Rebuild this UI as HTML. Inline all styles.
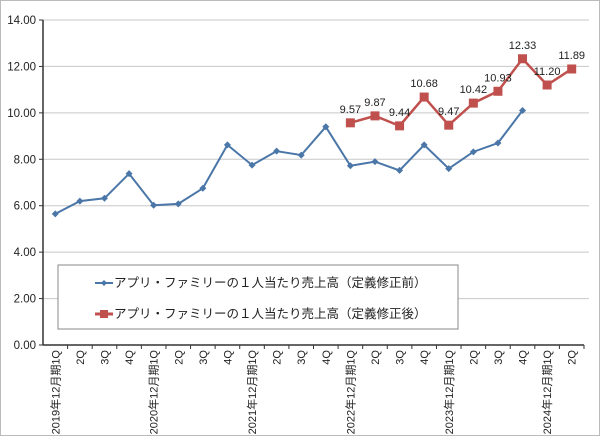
<!DOCTYPE html>
<html><head><meta charset="utf-8"><style>
body{margin:0;background:#fff}
svg{display:block;font-family:"Liberation Sans","Noto Sans CJK JP",sans-serif}
</style></head><body>
<svg id="c" width="600" height="436">
<rect x="0.5" y="0.5" width="599" height="435" fill="#fff" stroke="#bbb"/>
<g id="grid"></g><g id="axes"></g><g id="series"></g>
<g>
<rect x="58" y="265" width="400" height="64" fill="#fff" stroke="#888"/>
<g>
<line x1="95" y1="283" x2="113" y2="283" stroke="#4a76a8" stroke-width="2"/><path d="M104 280l3 3-3 3-3-3z" fill="#4a76a8"/>
<text x="114" y="287" font-size="12.5" fill="#222">アプリ・ファミリーの１人当たり売上高（定義修正前）</text></g>
<g>
<line x1="95" y1="314" x2="113" y2="314" stroke="#c0504d" stroke-width="3"/><rect x="100" y="310" width="8" height="8" fill="#c0504d"/>
<text x="114" y="318" font-size="12.5" fill="#222">アプリ・ファミリーの１人当たり売上高（定義修正後）</text></g>
</g>
</svg>
<script>
const categories=["2019年12月期1Q","2Q","3Q","4Q","2020年12月期1Q","2Q","3Q","4Q","2021年12月期1Q","2Q","3Q","4Q","2022年12月期1Q","2Q","3Q","4Q","2023年12月期1Q","2Q","3Q","4Q","2024年12月期1Q","2Q"];
const beforeValues=[5.65,6.2,6.32,7.38,6.02,6.08,6.75,8.62,7.75,8.35,8.18,9.4,7.72,7.9,7.52,8.62,7.6,8.32,8.7,10.1];
const afterStart=12;
const afterValues=[9.57,9.87,9.44,10.68,9.47,10.42,10.93,12.33,11.20,11.89];
const yTicks=[0,2,4,6,8,10,12,14];
const NS="http://www.w3.org/2000/svg";
const X0=43,X1=584,Y0=345,Y1=20,YMAX=14;
const bw=(X1-X0)/categories.length;
const xs=i=>X0+bw*(i+0.5);
const ys=v=>Y0-(Y0-Y1)*v/YMAX;
function mk(t,a,p){const e=document.createElementNS(NS,t);for(const k in a)e.setAttribute(k,a[k]);p.appendChild(e);return e;}
const grid=document.getElementById('grid'),axes=document.getElementById('axes'),ser=document.getElementById('series');
yTicks.forEach(v=>{
 if(v>0){const l=mk('line',{x1:X0,x2:X1+5,y1:ys(v),y2:ys(v),stroke:'#c8c8c8','stroke-width':1},grid);
 
 }
 const t=mk('text',{x:36,y:ys(v)+4,'font-size':11.5,'text-anchor':'end',fill:'#222'},axes);t.textContent=v.toFixed(2);
 
 
 mk('line',{x1:X0-4,x2:X0,y1:ys(v),y2:ys(v),stroke:'#333'},axes);
});
mk('line',{x1:X0,x2:X0,y1:Y1,y2:Y0,stroke:'#333','stroke-width':1.5},axes);
mk('line',{x1:X0,x2:X1,y1:Y0,y2:Y0,stroke:'#333','stroke-width':1.5},axes);
categories.forEach((c,i)=>{
 mk('line',{x1:X0+bw*(i+1),x2:X0+bw*(i+1),y1:Y0,y2:Y0+4,stroke:'#333'},axes);
 const t=mk('text',{transform:`translate(${xs(i)+4},350) rotate(-90)`,'font-size':11,'text-anchor':'end',fill:'#222'},axes);
 t.textContent=c;
 
 
});
const bp=mk('polyline',{points:beforeValues.map((v,i)=>xs(i)+','+ys(v)).join(' '),fill:'none',stroke:'#4a76a8','stroke-width':2},ser);


beforeValues.forEach((v,i)=>{const x=xs(i),y=ys(v);
 const m=mk('path',{d:`M${x} ${y-3.5}l3.5 3.5-3.5 3.5-3.5-3.5z`,fill:'#4a76a8'},ser);
 
 });
const ap=mk('polyline',{points:afterValues.map((v,i)=>xs(i+afterStart)+','+ys(v)).join(' '),fill:'none',stroke:'#c0504d','stroke-width':2.5},ser);


afterValues.forEach((v,i)=>{const x=xs(i+afterStart),y=ys(v);
 const m=mk('rect',{x:x-4.5,y:y-4.5,width:9,height:9,fill:'#c0504d'},ser);
 
 
 const t=mk('text',{x:x,y:y-10,'font-size':11,'text-anchor':'middle',fill:'#222'},ser);t.textContent=v.toFixed(2);
 
 });
</script>
</body></html>
